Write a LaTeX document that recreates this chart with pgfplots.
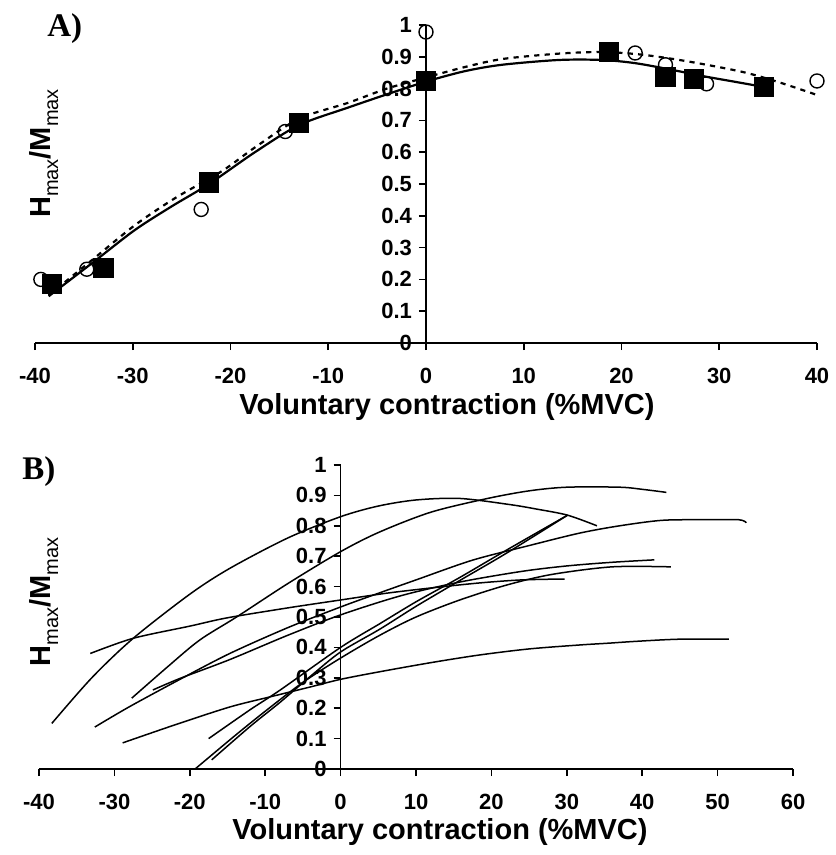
\documentclass[border=0pt]{standalone}
\usepackage{fontspec}
\setmainfont{Liberation Sans}
\newfontfamily\serifb{Liberation Serif}
\usepackage{pgfplots}
\pgfplotsset{compat=1.18}
\newcommand\hm{H\raisebox{-0.28em}{\mdseries\fontsize{10}{10}\selectfont max}/M\raisebox{-0.28em}{\mdseries\fontsize{10}{10}\selectfont max}}
\pgfplotsset{
  myax/.style={
    scale only axis,
    axis lines=middle,
    axis line style={-, line width=0.8pt},
    every inner x axis line/.append style={-},
    every inner y axis line/.append style={-},
    ymin=0, ymax=1,
    tick align=outside,
    major tick length=3.5pt,
    tick style={line width=0.8pt, black},
    hide obscured x ticks=false, hide obscured y ticks=false,
    /pgf/number format/assume math mode=true,
    ticklabel style={font=\bfseries\fontsize{11}{12}\selectfont},
    xticklabel style={yshift=-5.5pt},
    ytick={0,0.1,0.2,0.3,0.4,0.5,0.6,0.7,0.8,0.9,1},
    yticklabels={0,0.1,0.2,0.3,0.4,0.5,0.6,0.7,0.8,0.9,1},
    clip=false,
    enlargelimits=false,
  },
  bl/.style={black, line width=0.75pt, smooth, tension=0.5, no markers, solid},
}
\begin{document}
\begin{tikzpicture}
\path[use as bounding box] (0,0) rectangle (417.5pt,-427.5pt);
% ---------- A ----------
\begin{axis}[myax,
  at={(17.5pt,-171.5pt)}, anchor=south west,
  width=391pt, height=159pt,
  xmin=-40, xmax=40,
  xtick={-40,-30,-20,-10,0,10,20,30,40},
  xticklabels={-40,-30,-20,-10,0,10,20,30,40},
]
\addplot[only marks, mark=o, mark size=3.5pt, mark options={line width=0.7pt}] coordinates {
(-39.4,0.20) (-34.7,0.232) (-23.0,0.42) (-14.4,0.665) (0,0.978) (21.4,0.912) (24.5,0.875) (28.7,0.815) (40,0.824)};
\addplot[line width=1.1pt, dash pattern=on 2.6pt off 2.6pt, smooth] coordinates {
(-38.6,0.15) (-34,0.265) (-29.8,0.37) (-25.7,0.455) (-20.9,0.54) (-17.5,0.615) (-13,0.705) (-8,0.755) (-4,0.80) (0,0.835) (4,0.868) (7.8,0.893) (13.6,0.91) (18,0.915) (22,0.907) (26.5,0.887) (32.3,0.853) (36.1,0.82) (40,0.78)};
\addplot[line width=1.1pt, smooth] coordinates {
(-38.6,0.147) (-34,0.255) (-29.8,0.355) (-26,0.43) (-22.2,0.50) (-17.5,0.60) (-13,0.685) (-8,0.74) (-4,0.782) (0,0.822) (4,0.855) (7.8,0.875) (13.6,0.89) (18,0.89) (21.4,0.88) (25,0.86) (28.2,0.84) (31.5,0.822) (34.6,0.805)};
\addplot[only marks, mark=square*, mark size=4.8pt] coordinates {
(-38.3,0.185) (-33.0,0.235) (-22.2,0.505) (-13.0,0.693) (0,0.824) (18.7,0.915) (24.5,0.837) (27.4,0.83) (34.6,0.805)};
\end{axis}
% ---------- B ----------
\begin{axis}[myax,
  at={(19.5pt,-384.5pt)}, anchor=south west,
  width=377pt, height=152pt,
  xmin=-40, xmax=60,
  xtick={-40,-30,-20,-10,0,10,20,30,40,50,60},
  xticklabels={-40,-30,-20,-10,0,10,20,30,40,50,60},
]
\addplot[bl] coordinates {(-38.3,0.15) (-33,0.30) (-27.5,0.43) (-20,0.575) (-14.7,0.66) (-7,0.76) (0,0.83) (5,0.865) (10,0.885) (15.8,0.89) (22.4,0.87) (26,0.855) (30.1,0.835) (34,0.80)};
\addplot[bl] coordinates {(-27.7,0.233) (-23,0.335) (-18.7,0.424) (-13.8,0.50) (-7,0.61) (0,0.715) (5.2,0.78) (12,0.845) (19.5,0.89) (25,0.915) (30,0.927) (37,0.927) (40,0.92) (43.2,0.91)};
\addplot[bl] coordinates {(-33.2,0.38) (-27.5,0.43) (-20,0.47) (-15.1,0.497) (-7,0.53) (0,0.556) (6,0.578) (11.8,0.595) (18.4,0.612) (24,0.622) (29.7,0.625)};
\addplot[bl] coordinates {(-32.6,0.138) (-28,0.205) (-21.3,0.295) (-14.7,0.38) (-7,0.465) (0,0.533) (5,0.578) (10,0.622) (17.5,0.687) (25,0.735) (31.7,0.776) (37,0.80) (42.6,0.818) (48,0.82) (52.8,0.82) (53.8,0.81)};
\addplot[bl] coordinates {(-24.9,0.26) (-21.3,0.298) (-14.7,0.36) (-7,0.44) (0,0.507) (8,0.57) (15.8,0.615) (24,0.65) (30,0.668) (36,0.68) (41.6,0.688)};
\addplot[bl] coordinates {(-17.5,0.10) (-12,0.195) (-8,0.26) (0,0.40) (5.2,0.478) (10,0.55) (15.8,0.63) (22,0.72) (30.1,0.835)};
\addplot[bl] coordinates {(-17.1,0.03) (-12,0.14) (-8,0.22) (-4,0.305) (0,0.385) (5.2,0.46) (10,0.535) (15.8,0.62) (22,0.71) (30.1,0.835)};
\addplot[bl] coordinates {(-19.3,0.0) (-14,0.11) (-10,0.19) (-5,0.285) (0,0.365) (5.2,0.44) (10,0.50) (15.8,0.556) (22,0.605) (28,0.64) (36,0.665) (43.8,0.665)};
\addplot[bl] coordinates {(-28.9,0.086) (-22,0.145) (-14.7,0.204) (-9.4,0.237) (-4,0.27) (0,0.295) (5.2,0.32) (12,0.35) (18.4,0.375) (25,0.395) (31.7,0.408) (35.6,0.414) (39.2,0.42) (44.9,0.427) (51.5,0.427)};
\end{axis}
% ---------- labels ----------
\node[font=\serifb\bfseries\fontsize{16.5}{18}\selectfont, anchor=base west, inner sep=0pt] at (23.5pt,-18.5pt) {A)};
\node[font=\serifb\bfseries\fontsize{16.5}{18}\selectfont, anchor=base west, inner sep=0pt] at (11pt,-239.5pt) {B)};
\node[font=\bfseries\fontsize{14.5}{16}\selectfont, rotate=90, anchor=base, inner sep=0pt] at (25pt,-76.75pt) {\hm};
\node[font=\bfseries\fontsize{14.5}{16}\selectfont, rotate=90, anchor=base, inner sep=0pt] at (25pt,-301pt) {\hm};
\node[font=\bfseries\fontsize{14.5}{16}\selectfont, anchor=base, inner sep=0pt] at (223.5pt,-207pt) {Voluntary contraction (\%MVC)};
\node[font=\bfseries\fontsize{14.5}{16}\selectfont, anchor=base, inner sep=0pt] at (220pt,-419.5pt) {Voluntary contraction (\%MVC)};
\end{tikzpicture}
\end{document}
